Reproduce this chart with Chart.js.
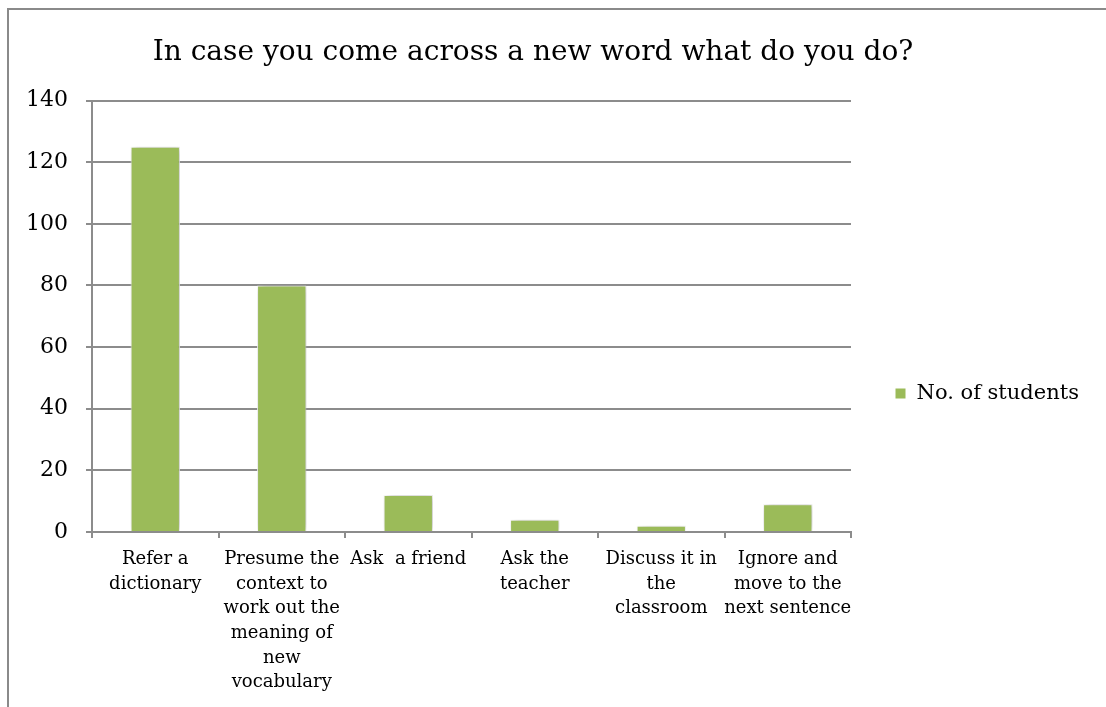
<!DOCTYPE html>
<html>
<head>
<meta charset="utf-8">
<script src="https://cdn.jsdelivr.net/npm/chart.js@4.4.1/dist/chart.umd.min.js"></script>
<style>
  body { margin: 0; background: #fff; }
  #wrap { position: relative; width: 1106px; height: 707px; }
  #frame { position: absolute; left: 7px; top: 8px; right: 0; bottom: 0;
           border-left: 2px solid #8a8a8a; border-top: 2px solid #8a8a8a; }
  canvas { position: absolute; left: 0; top: 0; }
</style>
</head>
<body>
<div id="wrap">
  <div id="frame"></div>
  <canvas id="myBarChart" width="1106" height="707"></canvas>
</div>
<script>
// chart values
const categories = [
  ["Refer a", "dictionary"],
  ["Presume the", "context to", "work out the", "meaning of", "new", "vocabulary"],
  ["Ask  a friend"],
  ["Ask the", "teacher"],
  ["Discuss it in", "the", "classroom"],
  ["Ignore and", "move to the", "next sentence"]
];
const students = [125, 80, 12, 4, 2, 9];
const seriesName = "No. of students";
const yMin = 0;
const yMax = 140;
const yStep = 20;

const serif = "'DejaVu Serif', serif";
const gridColor = "#8c8c8c";

// soft grey glow behind the bars, like the office chart
const barShadow = {
  id: "barShadow",
  beforeDatasetsDraw(chart) {
    const ctx = chart.ctx;
    ctx.save();
    ctx.shadowColor = "rgba(0, 0, 0, 0.28)";
    ctx.shadowBlur = 8;
    ctx.shadowOffsetX = 2;
    ctx.shadowOffsetY = 0;
  },
  afterDatasetsDraw(chart) {
    chart.ctx.restore();
  }
};

// keep the legend column wide and the title centred like the original
const frameFit = {
  id: "frameFit",
  beforeLayout(chart) {
    const lg = chart.legend;
    if (lg && !lg._wide) {
      const fit = lg.fit;
      lg.fit = function () {
        fit.call(this);
        this.width = 255;
      };
      lg._wide = true;
    }
  },
  afterLayout(chart) {
    if (chart.titleBlock) chart.titleBlock.right = 1066;
    if (chart.legend) chart.legend.top = 80;
  }
};

const ctx = document.getElementById("myBarChart").getContext("2d");
const myBarChart = new Chart(ctx, {
  type: "bar",
  data: {
    labels: categories,
    datasets: [
      {
        label: seriesName,
        data: students,
        backgroundColor: "#9bbb59",
        borderColor: "#ffffff",
        borderWidth: 1,
        categoryPercentage: 1,
        barPercentage: 0.39
      }
    ]
  },
  options: {
    responsive: false,
    animation: false,
    layout: { padding: 0 },
    plugins: {
      title: {
        display: true,
        text: "In case you come across a new word what do you do?",
        color: "#000",
        font: { family: serif, size: 28, weight: "normal", lineHeight: 1.2 },
        padding: { top: 36, bottom: 31 }
      },
      legend: {
        position: "right",
        labels: {
          color: "#000",
          font: { family: serif, size: 21 },
          boxWidth: 11,
          boxHeight: 11,
          padding: 44
        }
      },
      tooltip: { enabled: false }
    },
    scales: {
      x: {
        grid: {
          display: true,
          drawOnChartArea: false,
          drawTicks: true,
          tickLength: 6,
          color: gridColor,
          lineWidth: 2,
          offset: true
        },
        border: { display: true, color: gridColor, width: 2 },
        ticks: {
          color: "#000",
          font: { family: serif, size: 18, lineHeight: 1.37 },
          maxRotation: 0,
          autoSkip: false,
          padding: 9
        },
        afterFit: function (scale) {
          scale.height = 175;
        }
      },
      y: {
        min: yMin,
        max: yMax,
        grid: {
          color: gridColor,
          lineWidth: 2,
          tickLength: 6
        },
        border: { display: true, color: gridColor, width: 2 },
        ticks: {
          stepSize: yStep,
          color: "#000",
          font: { family: serif, size: 22 },
          padding: 18
        },
        afterFit: function (scale) {
          scale.width = 92;
        }
      }
    }
  },
  plugins: [barShadow, frameFit]
});
</script>
</body>
</html>
